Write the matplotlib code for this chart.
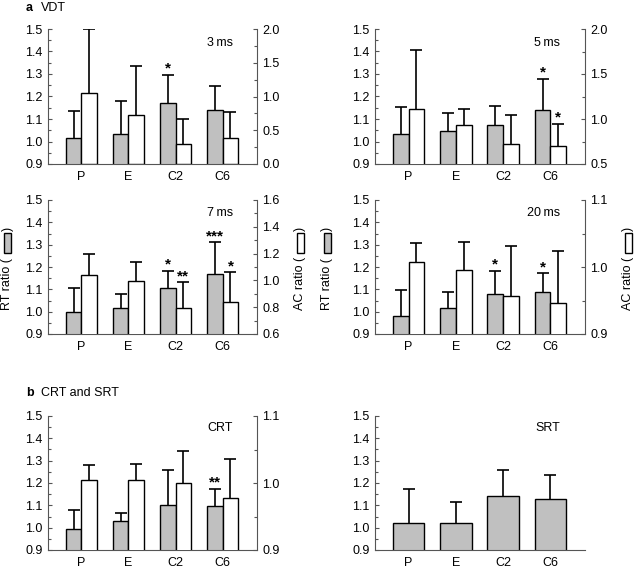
import matplotlib
matplotlib.use("Agg")
import matplotlib.pyplot as plt
from matplotlib.patches import Rectangle
from matplotlib.ticker import MultipleLocator, FormatStrFormatter
import numpy as np

plt.rcParams['font.family'] = ['Liberation Sans', 'DejaVu Sans']
plt.rcParams['font.size'] = 9

categories = ["P", "E", "C2", "C6"]

# ---- data (RT ratio = gray bars, AC ratio = white bars) ----
rt_3ms = [1.017, 1.032, 1.173, 1.142]
rt_3ms_sd = [0.119, 0.150, 0.124, 0.106]
ac_3ms = [1.054, 0.728, 0.292, 0.381]
ac_3ms_sd = [0.946, 0.718, 0.371, 0.386]
rt_3ms_sig = ["", "", "*", ""]
ac_3ms_sig = ["", "", "", ""]

rt_5ms = [1.032, 1.046, 1.072, 1.142]
rt_5ms_sd = [0.121, 0.081, 0.084, 0.137]
ac_5ms = [1.106, 0.928, 0.723, 0.700]
ac_5ms_sd = [0.662, 0.185, 0.316, 0.250]
rt_5ms_sig = ["", "", "", "*"]
ac_5ms_sig = ["", "", "", "*"]

rt_7ms = [0.998, 1.016, 1.104, 1.169]
rt_7ms_sd = [0.110, 0.061, 0.079, 0.141]
ac_7ms = [1.037, 0.995, 0.794, 0.838]
ac_7ms_sd = [0.159, 0.146, 0.193, 0.224]
rt_7ms_sig = ["", "", "*", "***"]
ac_7ms_sig = ["", "", "**", "*"]

rt_20ms = [0.979, 1.016, 1.079, 1.090]
rt_20ms_sd = [0.119, 0.070, 0.104, 0.082]
ac_20ms = [1.007, 0.995, 0.957, 0.946]
ac_20ms_sd = [0.0295, 0.043, 0.075, 0.078]
rt_20ms_sig = ["", "", "*", "*"]
ac_20ms_sig = ["", "", "", ""]

rt_crt = [0.994, 1.031, 1.101, 1.096]
rt_crt_sd = [0.083, 0.036, 0.155, 0.078]
ac_crt = [1.004, 1.005, 1.000, 0.977]
ac_crt_sd = [0.023, 0.024, 0.048, 0.059]
rt_crt_sig = ["", "", "", "**"]
ac_crt_sig = ["", "", "", ""]

rt_srt = [1.022, 1.022, 1.143, 1.129]
rt_srt_sd = [0.153, 0.091, 0.113, 0.109]

# ---- style ----
W, H = 635, 570
GRAY = "#c0c0c0"
SPINE = "#555555"
fig = plt.figure(figsize=(W / 100, H / 100), dpi=100)


def fx(x):
    return x / W


def fy(y):
    return 1 - y / H


def make_ax(x0, y0, x1, y1):
    return fig.add_axes([fx(x0), fy(y1), (x1 - x0) / W, (y1 - y0) / H])


def style_left(ax):
    ax.set_ylim(0.9, 1.5)
    ax.set_xlim(-0.71, 3.73)
    ax.yaxis.set_major_locator(MultipleLocator(0.1))
    ax.yaxis.set_minor_locator(MultipleLocator(0.05))
    ax.yaxis.set_major_formatter(FormatStrFormatter("%.1f"))
    ax.tick_params(axis="y", which="major", direction="in", length=3, width=0.8, color=SPINE, pad=4)
    ax.tick_params(axis="y", which="minor", direction="in", length=2, width=0.8, color=SPINE)
    ax.tick_params(axis="x", length=0, pad=5)
    ax.set_xticks(np.arange(len(categories)))
    ax.set_xticklabels(categories)
    for s in ["top", "right"]:
        ax.spines[s].set_visible(False)
    for s in ["left", "bottom"]:
        ax.spines[s].set_color(SPINE)
        ax.spines[s].set_linewidth(0.8)


def style_right(ax2, lo, hi, major, minor):
    ax2.set_ylim(lo, hi)
    ax2.yaxis.set_major_locator(MultipleLocator(major))
    ax2.yaxis.set_minor_locator(MultipleLocator(minor))
    ax2.yaxis.set_major_formatter(FormatStrFormatter("%.1f"))
    ax2.tick_params(axis="y", which="major", direction="in", length=3, width=0.8, color=SPINE, pad=4)
    ax2.tick_params(axis="y", which="minor", direction="in", length=2, width=0.8, color=SPINE)
    for s in ["top", "left", "bottom"]:
        ax2.spines[s].set_visible(False)
    ax2.spines["right"].set_color(SPINE)
    ax2.spines["right"].set_linewidth(0.8)


def bars(ax, xs, means, sds, color, width, sigs=None):
    cont = ax.bar(xs, means, width=width, bottom=0, color=color, edgecolor="black",
                  linewidth=1.0, zorder=2,
                  yerr=[np.zeros(len(means)), sds], capsize=4,
                  error_kw=dict(elinewidth=1.2, capthick=1.2, ecolor="black", zorder=3))
    # one-sided (upward) error bars: hide the lower caps
    caplines = cont.errorbar.lines[1]
    if len(caplines) >= 1:
        caplines[0].set_visible(False)
    if sigs:
        for x, m, s, g in zip(xs, means, sds, sigs):
            if g:
                ax.annotate(g, (x, m + s), xytext=(0, 1.5), textcoords="offset points",
                            ha="center", va="baseline", fontsize=11, fontweight="bold",
                            zorder=4)


def panel(x0, y0, x1, y1, rt, rt_sd, ac, ac_sd, rt_sig, ac_sig, rlim, rmaj, rmin):
    ax = make_ax(x0, y0, x1, y1)
    style_left(ax)
    xs = np.arange(len(categories))
    bars(ax, xs - 1 / 6, rt, rt_sd, GRAY, 1 / 3, rt_sig)
    ax2 = ax.twinx()
    style_right(ax2, rlim[0], rlim[1], rmaj, rmin)
    ax2.set_xlim(-0.71, 3.73)
    bars(ax2, xs + 1 / 6, ac, ac_sd, "white", 1 / 3, ac_sig)
    return ax, ax2


def ylabel_with_box(xc, label, color):
    fig.text(fx(xc), fy(310), label + " (", rotation=90, ha="center", va="bottom", fontsize=9)
    fig.add_artist(Rectangle((fx(xc - 3.5), fy(253)), 7 / W, 20 / H, transform=fig.transFigure,
                             facecolor=color, edgecolor="black", linewidth=1.0))
    fig.text(fx(xc), fy(231), ")", rotation=90, ha="center", va="bottom", fontsize=9)


LX0, LX1 = 48, 257
RX0, RX1 = 375, 585

panel(LX0, 29, LX1, 164, rt_3ms, rt_3ms_sd, ac_3ms, ac_3ms_sd, rt_3ms_sig, ac_3ms_sig, (0.0, 2.0), 0.5, 0.25)
panel(RX0, 29, RX1, 164, rt_5ms, rt_5ms_sd, ac_5ms, ac_5ms_sd, rt_5ms_sig, ac_5ms_sig, (0.5, 2.0), 0.5, 0.25)
panel(LX0, 200, LX1, 334, rt_7ms, rt_7ms_sd, ac_7ms, ac_7ms_sd, rt_7ms_sig, ac_7ms_sig, (0.6, 1.6), 0.2, 0.1)
panel(RX0, 200, RX1, 334, rt_20ms, rt_20ms_sd, ac_20ms, ac_20ms_sd, rt_20ms_sig, ac_20ms_sig, (0.9, 1.1), 0.1, 0.05)
panel(LX0, 416, LX1, 550, rt_crt, rt_crt_sd, ac_crt, ac_crt_sd, rt_crt_sig, ac_crt_sig, (0.9, 1.1), 0.1, 0.05)

ax_srt = make_ax(RX0, 416, RX1, 550)
style_left(ax_srt)
bars(ax_srt, np.arange(len(categories)), rt_srt, rt_srt_sd, GRAY, 2 / 3)

# inner panel titles
for (xr, yc, t) in [(233, 43, "3\u2009ms"), (560, 43, "5\u2009ms"), (233, 213, "7\u2009ms"),
                    (560, 213, "20\u2009ms"), (233, 428, "CRT"), (560, 428, "SRT")]:
    fig.text(fx(xr), fy(yc), t, ha="right", va="center", fontsize=9)

# section headers
fig.text(fx(26), fy(8), "a", fontweight="bold", ha="left", va="center", fontsize=9)
fig.text(fx(41), fy(8), "VDT", ha="left", va="center", fontsize=9)
fig.text(fx(26), fy(393), "b", fontweight="bold", ha="left", va="center", fontsize=9)
fig.text(fx(41), fy(393), "CRT and SRT", ha="left", va="center", fontsize=9)

# y labels with legend boxes
ylabel_with_box(7.5, "RT ratio", GRAY)
ylabel_with_box(300, "AC ratio", "white")
ylabel_with_box(327, "RT ratio", GRAY)
ylabel_with_box(628, "AC ratio", "white")

fig.savefig("out.png", dpi=100)
